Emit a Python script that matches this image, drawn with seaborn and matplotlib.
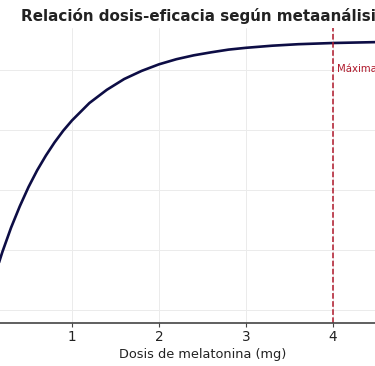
import matplotlib
matplotlib.use("Agg")
import pandas as pd
import seaborn as sns
import matplotlib.pyplot as plt

# Dose-response values
dosis = [0.0, 0.1, 0.2, 0.3, 0.4, 0.5, 0.6, 0.7, 0.8, 0.9, 1.0, 1.2, 1.4, 1.6,
         1.8, 2.0, 2.2, 2.4, 2.6, 2.8, 3.0, 3.3, 3.6, 4.0, 4.5, 5.0]
eficacia = [0.0, 10.3, 19.4, 27.5, 34.6, 41.0, 46.6, 51.5, 55.9, 59.8, 63.2, 69.0,
            73.4, 77.0, 79.7, 81.9, 83.6, 84.9, 85.9, 86.8, 87.4, 88.1, 88.6,
            89.0, 89.3, 89.5]
dosis_maxima = 4
etiqueta_maxima = "Máxima eficacia"
xticks = [1, 2, 3, 4]
yticks = [0, 20, 40, 60, 80]

df = pd.DataFrame({"dosis": dosis, "eficacia": eficacia})

sns.set_style("whitegrid")
plt.rcParams["font.family"] = ["DejaVu Sans"]

fig = plt.figure(figsize=(3.75, 3.66), dpi=100)
# the axes run past both sides of the figure, as in the cropped reference
ax = fig.add_axes([-0.098, 0.1175, 1.276, 0.806])

sns.lineplot(data=df, x="dosis", y="eficacia", ax=ax, color="#0d0d45", linewidth=1.9)
ax.axvline(dosis_maxima, color="#b0182b", linestyle="--", linewidth=1.1)
ax.text(dosis_maxima + 0.05, 80.5, etiqueta_maxima, color="#b0182b", fontsize=7.3, va="center")

ax.set_xlim(-0.25, 5.25)
ax.set_ylim(-4.3, 94)
ax.set_xticks(xticks)
ax.set_yticks(yticks)
ax.grid(color="#ebebeb", linewidth=0.7)
for s in ["top", "right", "left"]:
    ax.spines[s].set_visible(False)
ax.spines["bottom"].set_color("#444444")
ax.spines["bottom"].set_linewidth(1.2)
ax.tick_params(axis="x", bottom=True, length=3, width=0.8, color="#444444",
               labelsize=9.8, labelcolor="#222222", pad=2)
ax.tick_params(axis="y", labelleft=False)
ax.set_xlabel("Dosis de melatonina (mg)", fontsize=9.3, color="#222222", labelpad=3)
ax.set_ylabel("")
ax.set_title("Relación dosis-eficacia según metaanálisis", fontsize=10.9,
             fontweight="bold", color="#222222", pad=5)

fig.savefig("out.png", dpi=100)
